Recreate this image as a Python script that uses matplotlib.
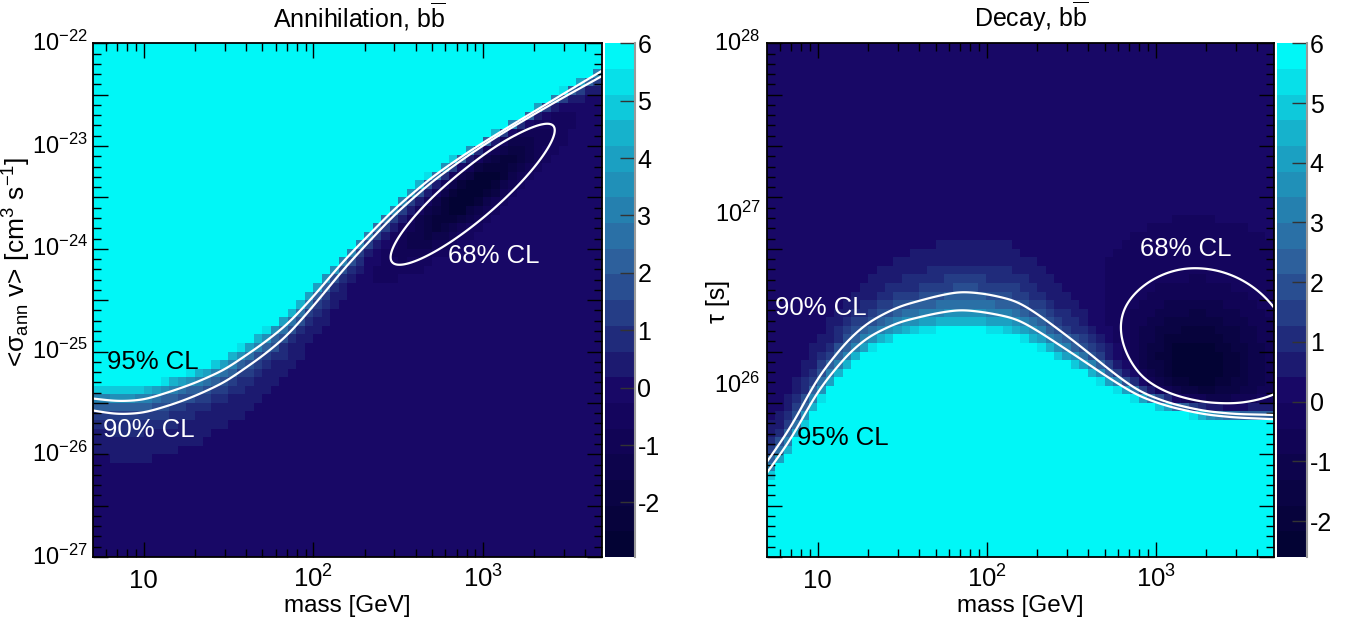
import numpy as np
import matplotlib
matplotlib.use("Agg")
import matplotlib.pyplot as plt
import matplotlib.transforms as mtransforms
from matplotlib.colors import ListedColormap, BoundaryNorm
from matplotlib.ticker import FixedLocator, FixedFormatter, NullFormatter, FuncFormatter

plt.rcParams['font.family'] = ['Liberation Sans', 'DejaVu Sans']
plt.rcParams['mathtext.fontset'] = 'custom'
plt.rcParams['mathtext.rm'] = 'Liberation Sans'
plt.rcParams['mathtext.it'] = 'Liberation Sans:italic'
plt.rcParams['mathtext.bf'] = 'Liberation Sans:bold'
plt.rcParams['mathtext.sf'] = 'Liberation Sans'
plt.rcParams['axes.unicode_minus'] = False

# ---------------- values ----------------
mass_nodes = [5, 7, 10, 15, 20, 30, 50, 70, 100, 150, 200, 300, 500, 800, 1200, 2000, 3000, 5000]

# annihilation: <sigma v> on the 95% / 90% CL curves [cm^3 s^-1]
ann_sigma95 = [3.49e-26, 3.27e-26, 3.37e-26, 4.17e-26, 4.93e-26, 6.64e-26, 1.18e-25, 1.82e-25,
               3.43e-25, 7.55e-25, 1.23e-24, 2.43e-24, 4.94e-24, 8.41e-24, 1.28e-23, 2.14e-23,
               3.22e-23, 5.37e-23]
ann_sigma90 = [2.67e-26, 2.44e-26, 2.52e-26, 3.08e-26, 3.68e-26, 5.01e-26, 9.0e-26, 1.42e-25,
               2.77e-25, 6.24e-25, 1.04e-24, 2.10e-24, 4.37e-24, 7.62e-24, 1.19e-23, 1.98e-23,
               2.94e-23, 4.75e-23]
# decay: lifetime on the 90% / 95% CL curves [s]
dec_tau90 = [3.58e25, 5.77e25, 1.118e26, 1.84e26, 2.36e26, 2.90e26, 3.33e26, 3.56e26, 3.44e26,
             3.14e26, 2.63e26, 1.96e26, 1.355e26, 1.007e26, 8.71e25, 7.61e25, 7.12e25, 6.87e25]
dec_tau95 = [3.09e25, 4.91e25, 9.33e25, 1.525e26, 1.94e26, 2.35e26, 2.65e26, 2.79e26, 2.68e26,
             2.47e26, 2.10e26, 1.62e26, 1.18e26, 9.10e25, 7.98e25, 7.06e25, 6.67e25, 6.43e25]

# best-fit regions
ann_best_mass, ann_best_sigma, ann_ts_min = 860.0, 3.6e-24, -2.95
ann_cl68_semiaxes = (0.212, 0.053)     # 68% region semi-axes, fraction of plot box
ann_cl68_angle = 40.4                  # degrees
dec_best_mass, dec_best_tau, dec_ts_min = 1710.0, 1.2e26, -2.6
dec_widths = {"left": 0.26, "right": 0.284, "up": 0.289, "down": 0.187}  # decades

cl_names = ["68% CL", "90% CL", "95% CL"]
cl_delta = [2.30, 4.61, 5.99]
z_max = 6.0
n_levels = 20
mass_range = (5, 5000)
ann_range = (-27, -22)
dec_range = (25, 28)
ann_ylabels = [-27, -26, -25, -24, -23, -22]
dec_ylabels = [26, 27, 28]

# ROOT "deep sea" palette
pal_stops = [0.00, 0.34, 0.61, 0.84, 1.00]
pal_red = [0.00, 0.09, 0.18, 0.09, 0.00]
pal_green = [0.01, 0.02, 0.39, 0.68, 0.97]
pal_blue = [0.17, 0.39, 0.62, 0.79, 0.97]

# ---------------- helpers ----------------
u_nodes = np.log10(mass_nodes)


def smooth_curve(u, y_nodes, width=0.05):
    fine = np.linspace(u_nodes[0], u_nodes[-1], 1501)
    vals = np.interp(fine, u_nodes, y_nodes)
    step = fine[1] - fine[0]
    n = int(4 * width / step)
    kx = np.arange(-n, n + 1) * step
    k = np.exp(-0.5 * (kx / width) ** 2)
    k /= k.sum()
    padded = np.pad(vals, n, mode='reflect', reflect_type='odd')
    sm = np.convolve(padded, k, mode='valid')
    return np.interp(u, fine, sm)


def wall(u, y, y95_nodes, y90_nodes, L95, L90):
    y95 = smooth_curve(u, y95_nodes)
    y90 = smooth_curve(u, y90_nodes)
    h = (y95 - y90) / np.log(L95 / L90)
    return L95 * np.exp(np.clip((y - y95) / h, -60, 60))


def ann_field(u, s):
    L68, L90, L95 = [ann_ts_min + d for d in cl_delta]
    y95 = np.log10(ann_sigma95)
    y90 = np.log10(ann_sigma90)
    uc, sc = np.log10(ann_best_mass), np.log10(ann_best_sigma)
    D = -ann_ts_min + wall(np.array([uc]), np.array([sc]), y95, y90, L95, L90)[0]
    X = (u - uc) / (np.log10(mass_range[1]) - np.log10(mass_range[0]))
    Y = (s - sc) / (ann_range[1] - ann_range[0])
    th = np.radians(ann_cl68_angle)
    along = X * np.cos(th) + Y * np.sin(th)
    across = -X * np.sin(th) + Y * np.cos(th)
    r68 = np.sqrt(2 * np.log(D / (-L68)))
    sa, sb = ann_cl68_semiaxes[0] / r68, ann_cl68_semiaxes[1] / r68
    dip = D * np.exp(-0.5 * ((along / sa) ** 2 + (across / sb) ** 2))
    return wall(u, s, y95, y90, L95, L90) - dip


def dec_field(u, t):
    L68, L90, L95 = [dec_ts_min + d for d in cl_delta]
    q95 = -np.log10(dec_tau95)
    q90 = -np.log10(dec_tau90)
    uc, tc = np.log10(dec_best_mass), np.log10(dec_best_tau)
    D = -dec_ts_min + wall(np.array([uc]), np.array([-tc]), q95, q90, L95, L90)[0]
    du, dt = u - uc, t - tc
    su = np.where(du < 0, dec_widths["left"], dec_widths["right"])
    st = np.where(dt > 0, dec_widths["up"], dec_widths["down"])
    dip = D * np.exp(-0.5 * ((du / su) ** 2 + (dt / st) ** 2))
    return wall(u, -t, q95, q90, L95, L90) - dip


def level_cmap():
    fr = np.minimum((np.arange(n_levels) + 0.99) / n_levels, 1.0)
    cols = np.column_stack([np.interp(fr, pal_stops, pal_red),
                            np.interp(fr, pal_stops, pal_green),
                            np.interp(fr, pal_stops, pal_blue)])
    cmap = ListedColormap(cols)
    cmap.set_over(cols[-1])
    cmap.set_under(cols[0])
    return cmap


# ---------------- figure ----------------
W, H = 1364, 624
fig = plt.figure(figsize=(W / 100, H / 100), dpi=100)


def px_rect(x0, y0, x1, y1):
    return [x0 / W, 1 - y1 / H, (x1 - x0) / W, (y1 - y0) / H]


ax_l = fig.add_axes(px_rect(92.7, 43.3, 601.7, 557))
cax_l = fig.add_axes(px_rect(605, 43.3, 634.7, 557))
ax_r = fig.add_axes(px_rect(766.7, 43.3, 1273.7, 557))
cax_r = fig.add_axes(px_rect(1277, 43.3, 1307, 557))

lu0, lu1 = np.log10(mass_range[0]), np.log10(mass_range[1])
nb = 60


def draw_panel(ax, cax, field, yrange, ts_min, title, title_x, ylabel, ylabel_xy,
               ylab_dx, ylab_decades, texts, ylabel_size):
    ue = np.linspace(lu0, lu1, nb + 1)
    ye = np.linspace(yrange[0], yrange[1], nb + 1)
    uc = 0.5 * (ue[1:] + ue[:-1])
    yc = 0.5 * (ye[1:] + ye[:-1])
    UU, YY = np.meshgrid(uc, yc)
    Z = field(UU, YY)
    bounds = np.linspace(ts_min, z_max, n_levels + 1)
    cmap = level_cmap()
    norm = BoundaryNorm(bounds, n_levels)
    mesh = ax.pcolormesh(10 ** ue, 10 ** ye, Z, cmap=cmap, norm=norm, shading='flat')

    uf = np.linspace(lu0, lu1, 500)
    yf = np.linspace(yrange[0], yrange[1], 500)
    UF, YF = np.meshgrid(uf, yf)
    ZF = field(UF, YF)
    levels = [ts_min + d for d in cl_delta]
    ax.contour(10 ** UF, 10 ** YF, ZF, levels=levels, colors='white', linewidths=1.6,
               linestyles='solid')

    ax.set_xscale('log')
    ax.set_yscale('log')
    ax.set_xlim(*mass_range)
    ax.set_ylim(10.0 ** yrange[0], 10.0 ** yrange[1])
    ax.xaxis.set_major_locator(FixedLocator([10, 100, 1000]))
    ax.xaxis.set_major_formatter(FixedFormatter(['10', '$10^{2}$', '$10^{3}$']))
    minor_x = [m * 10 ** k for k in range(0, 4) for m in range(2, 10)
               if mass_range[0] < m * 10 ** k < mass_range[1]]
    ax.xaxis.set_minor_locator(FixedLocator(minor_x))
    ax.xaxis.set_minor_formatter(NullFormatter())
    ax.yaxis.set_major_locator(FixedLocator(10 ** np.linspace(yrange[0], yrange[1], 11)))
    ax.yaxis.set_minor_locator(FixedLocator(10 ** np.linspace(yrange[0], yrange[1], 51)))
    ax.yaxis.set_major_formatter(NullFormatter())
    ax.yaxis.set_minor_formatter(NullFormatter())
    ax.tick_params(which='both', direction='in', top=True, right=True, width=1.0)
    ax.tick_params(which='major', length=10.5)
    ax.tick_params(which='minor', length=5.5)
    ax.tick_params(axis='x', which='major', labelsize=18.5, pad=22)
    for lab in ax.get_xticklabels():
        lab.set_va('baseline')
    for sp in ax.spines.values():
        sp.set_linewidth(1.3)
    tr = mtransforms.blended_transform_factory(ax.transAxes, ax.transData)
    for dec in ylab_decades:
        ax.text(ylab_dx, 10.0 ** dec, "$10^{%d}$" % dec, transform=tr, ha='right',
                va='center', fontsize=17)
    ax.set_xlabel('mass [GeV]', fontsize=17.5, va='center')
    ax.xaxis.set_label_coords(0.5, -0.0953)
    ax.set_ylabel(ylabel, fontsize=ylabel_size, va='center', ha='center')
    ax.yaxis.set_label_coords(*ylabel_xy)
    for (txt, xm, yv, col) in texts:
        ax.text(xm, yv, txt, color=col, fontsize=18.5, ha='left', va='center')

    cb = fig.colorbar(mesh, cax=cax, ticks=list(range(-2, 7)), extend='neither')
    cb.outline.set_visible(False)
    cax.yaxis.set_major_formatter(FuncFormatter(lambda v, p: "%d" % int(round(v))))
    cax.minorticks_off()
    cax.tick_params(direction='in', length=10.8, width=1.0, color='#333333',
                    labelsize=18, pad=2, right=True, left=False)
    cax.plot([1, 1], [0, 1], transform=cax.transAxes, color='#9a9a9a', lw=1.5,
             clip_on=False)
    fig.text(title_x / W, 1 - 17 / H, title, ha='center', va='center', fontsize=18)


ann_texts = [("95% CL", 6.1, 7.9e-26, 'black'),
             ("90% CL", 5.75, 1.72e-26, 'white'),
             ("68% CL", 621, 8.5e-25, 'white')]
dec_texts = [("90% CL", 5.6, 2.85e26, 'white'),
             ("95% CL", 7.55, 4.96e25, 'black'),
             ("68% CL", 809, 6.28e26, 'white')]

draw_panel(ax_l, cax_l, ann_field, ann_range, ann_ts_min,
           r"Annihilation, b$\overline{\mathrm{b}}$", 359,
           r"<σ$_{\mathrm{ann}}$ v> [cm$^{3}$ s$^{-1}$]", (-0.148, 0.574), -0.009,
           ann_ylabels, ann_texts, 19)
draw_panel(ax_r, cax_r, dec_field, dec_range, dec_ts_min,
           r"Decay, b$\overline{\mathrm{b}}$", 1031,
           "τ [s]", (-0.096, 0.498), -0.012, dec_ylabels, dec_texts, 18)

fig.savefig("out.png", dpi=100)
